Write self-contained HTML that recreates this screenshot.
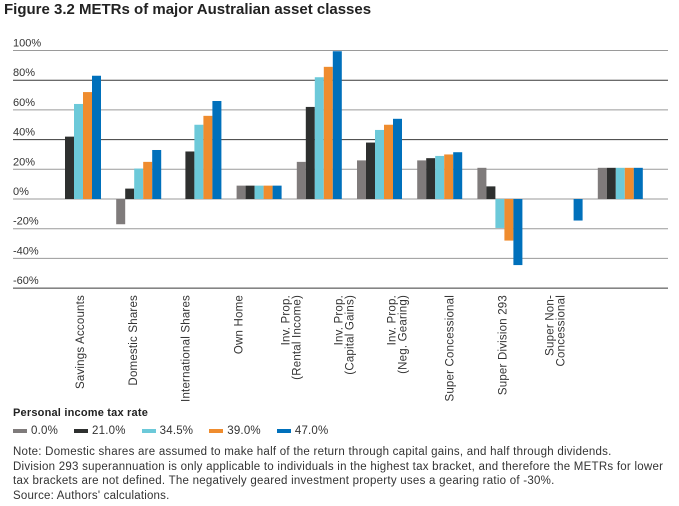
<!DOCTYPE html>
<html><head><meta charset="utf-8"><style>
body{margin:0;background:#fff;font-family:"Liberation Sans",sans-serif;color:#222}
#wrap{position:relative;width:679px;height:506px;overflow:hidden}
.t{position:absolute;white-space:nowrap}
</style></head><body>
<div id="wrap">
<div class="t" style="left:4px;top:1px;font-size:15px;font-weight:bold;color:#222">Figure 3.2 METRs of major Australian asset classes</div>
<svg id="chart" width="679" height="410" style="position:absolute;left:0;top:0"></svg>
<div class="t" style="left:13px;top:407px;font-size:11px;font-weight:bold;letter-spacing:0.2px">Personal income tax rate</div>
<div id="legend" style="position:absolute;left:13px;top:425px;font-size:11.5px;color:#333;display:flex;gap:16px;letter-spacing:0.2px"></div>
<div style="position:absolute;left:13px;top:445px;font-size:11.5px;letter-spacing:0.25px;line-height:14.5px;color:#333;width:670px;white-space:nowrap">Note: Domestic shares are assumed to make half of the return through capital gains, and half through dividends.<br>Division 293 superannuation is only applicable to individuals in the highest tax bracket, and therefore the METRs for lower<br>tax brackets are not defined. The negatively geared investment property uses a gearing ratio of -30%.</div>
<div class="t" style="left:13px;top:490px;font-size:11.5px;letter-spacing:0.2px;color:#333">Source: Authors' calculations.</div>
</div>
<script>
const categories=[["Savings Accounts"],["Domestic Shares"],["International Shares"],["Own Home"],["Inv. Prop.","(Rental Income)"],["Inv. Prop.","(Capital Gains)"],["Inv. Prop.","(Neg. Gearing)"],["Super Concessional"],["Super Division 293"],["Super Non-","Concessional"]];
const seriesNames=["0.0%","21.0%","34.5%","39.0%","47.0%"];
const rate0=[0,-17,0,9,25,26,26,21,null,21];
const rate21=[42,7,32,9,62,38,27.5,8.5,null,21];
const rate345=[64,20.5,50,9,82,46.5,29,-19.5,null,21];
const rate39=[72,25,56,9,89,50,30,-28,null,21];
const rate47=[83,33,66,9,99.5,54,31.5,-44.5,-14.5,21];
const ticks=[100,80,60,40,20,0,-20,-40,-60];
const tickLabels=["100%","80%","60%","40%","20%","0%","-20%","-40%","-60%"];
const series=[rate0,rate21,rate345,rate39,rate47];
const colors=["#7f7b7b","#2e302f","#6cc9d9","#ef8c2e","#0070bb"];
const NS="http://www.w3.org/2000/svg";
const svg=document.getElementById('chart');
const y=v=>199-v*1.485;
const xc=i=>78.5+i*60.2;
const lx=i=>80+i*52.8;
const bw=9;
function mk(t,a){const e=document.createElementNS(NS,t);for(const k in a)e.setAttribute(k,a[k]);svg.appendChild(e);return e;}
ticks.forEach((t,i)=>{
  const dark=(t===80||t===40||t===-60);
  const l=mk('line',{x1:13,x2:668,y1:y(t),y2:y(t),stroke:dark?'#3a3a3a':'#9a9a9a','stroke-width':1});
  
  
  const tx=mk('text',{x:13,y:y(t)-4,'font-size':11,fill:'#333','font-family':'Liberation Sans, sans-serif'});
  tx.textContent=tickLabels[i];
  
  
});
series.forEach((s,j)=>{
  s.forEach((v,i)=>{
    if(v===null)return;
    const x=xc(i)-22.5+j*bw;
    const r=mk('rect',{x:x,y:Math.min(y(v),y(0)),width:bw,height:Math.abs(y(v)-y(0)),fill:colors[j]});
    
    
  });
});
categories.forEach((c,i)=>{
  const g=mk('text',{transform:`translate(${lx(i)},295) rotate(-90)`,'text-anchor':'end','font-size':11.5,fill:'#333','font-family':'Liberation Sans, sans-serif','letter-spacing':0.2});
  
  
  c.forEach((line,k)=>{
    const ts=document.createElementNS(NS,'tspan');
    ts.setAttribute('x',0);
    ts.setAttribute('y',(k-(c.length-1)/2)*11+4);
    ts.textContent=line;g.appendChild(ts);
  });
});
const leg=document.getElementById('legend');
seriesNames.forEach((n,j)=>{
  const d=document.createElement('span');
  
  
  d.innerHTML=`<span style="display:inline-block;width:14px;height:4px;background:${colors[j]};vertical-align:middle;margin-right:4px"></span>${n}`;
  leg.appendChild(d);
});
</script>
</body></html>
